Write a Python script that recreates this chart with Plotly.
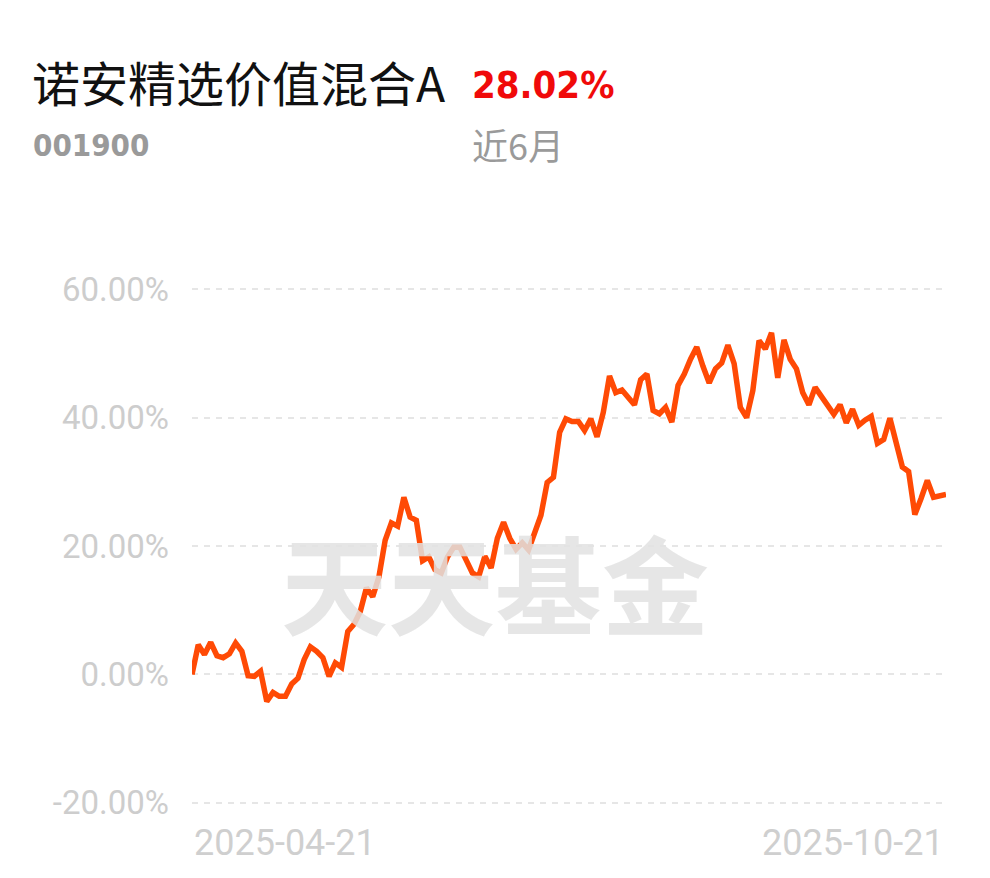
import plotly.graph_objects as go

fund_name = "诺安精选价值混合A"
fund_code = "001900"
period_return = "28.02%"
period_label = "近6月"
start_label = "2025-04-21"
end_label = "2025-10-21"
watermark = "天天基金"

returns = [
    0.0, 4.6, 3.1, 5.0, 2.9, 2.6, 3.2, 4.9, 3.6, -0.2, -0.3, 0.5,
    -4.2, -2.8, -3.4, -3.4, -1.5, -0.6, 2.3, 4.3, 3.6, 2.6, -0.3, 1.8, 1.1,
    6.7, 7.8, 9.8, 13.5, 12.1, 15.2, 20.9, 23.6, 23.1, 27.6, 24.5, 24.0,
    17.7, 18.3, 16.3, 15.8, 18.3, 19.8, 19.8, 17.8, 15.8, 15.2,
    18.4, 16.6, 21.2, 23.7, 21.2, 19.5, 20.5, 19.4, 22.2, 24.8,
    29.9, 30.7, 37.7, 39.8, 39.4, 39.4, 38.0, 39.8, 37.0, 40.8,
    46.5, 43.9, 44.3, 43.1, 42.0, 45.9, 46.8, 41.1, 40.6, 41.6,
    39.3, 45.0, 46.8, 49.1, 51.0, 48.0, 45.4, 47.6, 48.5, 51.3,
    48.4, 41.6, 40.0, 44.2, 52.0, 50.7, 53.2, 46.2, 52.1, 49.1,
    47.6, 43.9, 42.0, 44.7, 43.3, 41.9, 40.5, 42.0, 39.2, 41.3,
    38.8, 39.6, 40.2, 36.0, 36.6, 39.9, 36.0, 32.3, 31.6, 24.9,
    27.4, 30.2, 27.6, 27.9, 28.02,
]
y_ticks = [-20, 0, 20, 40, 60]
y_tick_labels = ["-20.00%", "0.00%", "20.00%", "40.00%", "60.00%"]

n = len(returns)
xs = list(range(n))

# page body has an 8px offset; layout numbers below are window pixels
OFF = 8
plot_l, plot_r = 192, 946
plot_t, plot_b = 286, 806
plot_w, plot_h = plot_r - plot_l, plot_b - plot_t

def px(xp):
    return (xp - plot_l) / plot_w

def py(yp):
    return (plot_b - yp) / plot_h

fig = go.Figure()

# watermark behind the line (on an overlay axis in [0,1])
fig.add_trace(go.Scatter(
    x=[px(495)], y=[py(600)], mode="text", text=[watermark],
    textfont=dict(family="Noto Sans CJK SC", size=107, color="rgba(226,226,226,0.85)",
                  weight="bold"),
    xaxis="x2", yaxis="y2", hoverinfo="skip", showlegend=False,
))

fig.add_trace(go.Scatter(
    x=xs, y=returns, mode="lines",
    line=dict(color="#FF4A05", width=5.5),
    hoverinfo="skip", showlegend=False,
))

fig.update_layout(
    width=990, height=878,
    margin=dict(l=plot_l - OFF, r=990 - (plot_r - OFF), t=plot_t - OFF, b=878 - (plot_b - OFF)),
    paper_bgcolor="white", plot_bgcolor="white",
    xaxis=dict(range=[0, n - 1], showgrid=False, zeroline=False, showline=False,
               showticklabels=False, ticks=""),
    yaxis=dict(range=[-20.5, 60.5], tickvals=y_ticks, ticktext=y_tick_labels,
               showgrid=True, gridcolor="#E6E6E6", gridwidth=2, griddash="6px,6px",
               zeroline=False, showline=False, ticks="", ticklabelstandoff=22,
               tickfont=dict(family="Roboto", size=33, color="#CDCDCD")),
    xaxis2=dict(range=[0, 1], overlaying="x", visible=False),
    yaxis2=dict(range=[0, 1], overlaying="y", visible=False),
    annotations=[
        dict(text=fund_name, x=px(30), y=py(81), xref="paper", yref="paper",
             xanchor="left", yanchor="middle", showarrow=False,
             font=dict(family="Noto Sans CJK SC", size=48, color="#111111")),
        dict(text="<b>" + period_return + "</b>", x=px(470), y=py(85), xref="paper", yref="paper",
             xanchor="left", yanchor="middle", showarrow=False,
             font=dict(family="DejaVu Sans Condensed", size=38, color="#F00A0A")),
        dict(text="<b>" + fund_code + "</b>", x=px(31), y=py(145), xref="paper", yref="paper",
             xanchor="left", yanchor="middle", showarrow=False,
             font=dict(family="DejaVu Sans Condensed", size=31, color="#9A9A9A")),
        dict(text=period_label, x=px(470), y=py(144), xref="paper", yref="paper",
             xanchor="left", yanchor="middle", showarrow=False,
             font=dict(family="Noto Sans CJK SC", size=36, color="#9A9A9A")),
        dict(text=start_label, x=0, xref="x", y=py(843), yref="paper",
             xanchor="left", yanchor="middle", showarrow=False,
             font=dict(family="Roboto", size=36, color="#CFCFCF")),
        dict(text=end_label, x=n - 1, xref="x", y=py(843), yref="paper",
             xanchor="right", yanchor="middle", showarrow=False,
             font=dict(family="Roboto", size=36, color="#CFCFCF")),
    ],
)

fig.write_html("out.html")
